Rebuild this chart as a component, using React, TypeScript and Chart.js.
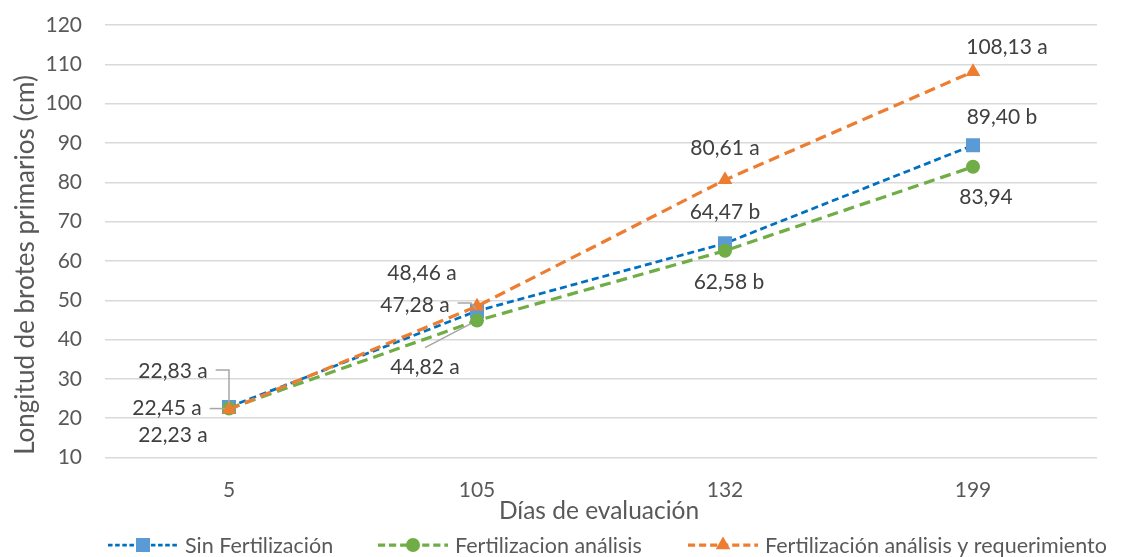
import React, { useEffect, useRef } from 'react';
import { Chart, registerables } from 'chart.js';

Chart.register(...registerables);

// Días de evaluación (categorías del eje X)
const dias = ['5', '105', '132', '199'];

// Longitud de brotes primarios (cm) por tratamiento
const sinFertilizacion = [22.83, 47.28, 64.47, 89.4];
const fertilizacionAnalisis = [22.45, 44.82, 62.58, 83.94];
const fertilizacionRequerimiento = [22.23, 48.46, 80.61, 108.13];

// Letras de significancia que acompañan a cada valor
const letrasSin = ['a', 'a', 'b', 'b'];
const letrasAnalisis = ['a', 'a', 'b', ''];
const letrasRequerimiento = ['a', 'a', 'a', 'a'];

// Eje Y
const yMin = 10;
const yMax = 120;
const yPaso = 10;

const nombres = ['Sin Fertilización', 'Fertilizacion análisis', 'Fertilización análisis y requerimiento'];

const FONT = 'Lato, "Open Sans", sans-serif';
const TEXT_DARK = '#404040';
const TEXT_AXIS = '#595959';

type Leader = 'elbow' | 'flat' | 'kink' | 'diag' | null;
interface LabelPos { dx: number; dy: number; leader: Leader }

// Desplazamiento de cada etiqueta respecto de su punto (px)
const posSin: LabelPos[] = [
  { dx: -56, dy: -36, leader: 'elbow' },
  { dx: -62, dy: -6, leader: 'kink' },
  { dx: 0, dy: -31, leader: null },
  { dx: 29, dy: -28, leader: null },
];
const posAnalisis: LabelPos[] = [
  { dx: -62, dy: 0, leader: 'flat' },
  { dx: -52, dy: 47, leader: 'diag' },
  { dx: 4, dy: 31, leader: null },
  { dx: 13, dy: 30, leader: null },
];
const posRequerimiento: LabelPos[] = [
  { dx: -56, dy: 26, leader: null },
  { dx: -55, dy: -33, leader: null },
  { dx: 0, dy: -32, leader: null },
  { dx: 34, dy: -24, leader: null },
];

const series = [
  {
    label: nombres[0], data: sinFertilizacion, letras: letrasSin, pos: posSin,
    line: '#0070C0', marker: '#5B9BD5', dash: [7, 4], width: 2.75, pointStyle: 'rect', radius: 9.9, order: 3,
  },
  {
    label: nombres[1], data: fertilizacionAnalisis, letras: letrasAnalisis, pos: posAnalisis,
    line: '#70AD47', marker: '#70AD47', dash: [11, 6], width: 3.25, pointStyle: 'circle', radius: 7, order: 2,
  },
  {
    label: nombres[2], data: fertilizacionRequerimiento, letras: letrasRequerimiento, pos: posRequerimiento,
    line: '#ED7D31', marker: '#ED7D31', dash: [11, 6], width: 3.25, pointStyle: 'triangle', radius: 8.5, order: 1,
  },
];

const fmt = (v: number, letra: string) => v.toFixed(2).replace('.', ',') + (letra ? ' ' + letra : '');

function drawMarker(ctx: CanvasRenderingContext2D, style: string, x: number, y: number, r: number, color: string) {
  ctx.save();
  ctx.fillStyle = color;
  ctx.beginPath();
  if (style === 'rect') {
    const s = Math.SQRT1_2 * r;
    ctx.rect(x - s, y - s, 2 * s, 2 * s);
  } else if (style === 'circle') {
    ctx.arc(x, y, r, 0, Math.PI * 2);
  } else {
    const w = r * Math.sin(Math.PI / 3);
    ctx.moveTo(x, y - r);
    ctx.lineTo(x + w, y + r / 2);
    ctx.lineTo(x - w, y + r / 2);
    ctx.closePath();
  }
  ctx.fill();
  ctx.restore();
}

const overlay = {
  id: 'overlay',
  afterDatasetsDraw(chart: any) {
    const ctx: CanvasRenderingContext2D = chart.ctx;
    ctx.save();
    ctx.font = `21px ${FONT}`;
    ctx.textAlign = 'center';
    ctx.textBaseline = 'middle';
    series.forEach((s, di) => {
      const meta = chart.getDatasetMeta(di);
      meta.data.forEach((pt: any, i: number) => {
        const p = s.pos[i];
        const lx = pt.x + p.dx;
        const ly = pt.y + p.dy;
        const text = fmt(s.data[i], s.letras[i]);
        const half = ctx.measureText(text).width / 2;
        if (p.leader) {
          ctx.save();
          ctx.strokeStyle = '#A6A6A6';
          ctx.lineWidth = 1.5;
          ctx.beginPath();
          if (p.leader === 'elbow') {
            ctx.moveTo(lx + half + 8, ly - 1);
            ctx.lineTo(pt.x, ly - 1);
            ctx.lineTo(pt.x, pt.y - 4);
          } else if (p.leader === 'flat') {
            ctx.moveTo(lx + half + 8, ly);
            ctx.lineTo(pt.x - 4, ly);
          } else if (p.leader === 'kink') {
            ctx.moveTo(lx + half + 8, ly - 2);
            ctx.lineTo(pt.x - 6, ly - 2);
            ctx.lineTo(pt.x - 1, pt.y - 2);
          } else if (p.leader === 'diag') {
            ctx.moveTo(lx, ly - 20);
            ctx.lineTo(pt.x - 6, pt.y + 3);
          }
          ctx.stroke();
          ctx.restore();
        }
        ctx.fillStyle = TEXT_DARK;
        ctx.fillText(text, lx, ly);
      });
    });
    ctx.restore();
  },
  afterDraw(chart: any) {
    const ctx: CanvasRenderingContext2D = chart.ctx;
    const area = chart.chartArea;
    ctx.save();
    // Título eje Y
    ctx.fillStyle = TEXT_AXIS;
    ctx.font = `26px ${FONT}`;
    ctx.textAlign = 'center';
    ctx.textBaseline = 'alphabetic';
    ctx.save();
    ctx.translate(34, 265);
    ctx.rotate(-Math.PI / 2);
    ctx.fillText('Longitud de brotes primarios (cm)', 0, 0);
    ctx.restore();
    // Título eje X
    ctx.font = `24.5px ${FONT}`;
    ctx.fillText('Días de evaluación', (area.left + area.right) / 2 - 2, 519);

    // Leyenda
    const legendY = 545;
    const starts = [108, 378, 688];
    ctx.font = `21.5px ${FONT}`;
    ctx.textAlign = 'left';
    ctx.textBaseline = 'middle';
    series.forEach((s, i) => {
      const x0 = starts[i];
      ctx.save();
      ctx.strokeStyle = s.line;
      ctx.lineWidth = s.width;
      ctx.setLineDash(s.dash.map((d) => d * 0.65));
      ctx.beginPath();
      ctx.moveTo(x0, legendY);
      ctx.lineTo(x0 + 70, legendY);
      ctx.stroke();
      ctx.restore();
      drawMarker(ctx, s.pointStyle, x0 + 35, legendY, s.radius, s.marker);
      ctx.fillStyle = TEXT_AXIS;
      ctx.fillText(s.label, x0 + 77, legendY + 1);
    });
    ctx.restore();
  },
};

export default function App() {
  const canvasRef = useRef<HTMLCanvasElement | null>(null);

  useEffect(() => {
    document.body.style.margin = '0';
    const canvas = canvasRef.current;
    if (!canvas) return;
    const chart = new Chart(canvas, {
      type: 'line',
      data: {
        labels: dias,
        datasets: series.map((s) => ({
          label: s.label,
          data: s.data,
          borderColor: s.line,
          borderWidth: s.width,
          borderDash: s.dash,
          backgroundColor: s.marker,
          pointStyle: s.pointStyle as any,
          pointRadius: s.radius,
          pointHoverRadius: s.radius,
          pointBackgroundColor: s.marker,
          pointBorderColor: s.marker,
          pointBorderWidth: 0,
          fill: false,
          tension: 0,
          order: s.order,
        })),
      },
      options: {
        responsive: false,
        animation: false,
        events: [],
        layout: { padding: { top: 25, right: 28, bottom: 0, left: 0 } },
        plugins: {
          legend: { display: false },
          tooltip: { enabled: false },
        },
        scales: {
          x: {
            type: 'category',
            offset: true,
            grid: { display: false, drawTicks: false },
            border: { display: false },
            ticks: { color: TEXT_AXIS, font: { family: FONT, size: 21 }, padding: 20 },
            afterFit: (scale: any) => {
              scale.height = 99.5;
              scale.paddingLeft = 0;
              scale.paddingRight = 0;
            },
          },
          y: {
            min: yMin,
            max: yMax,
            grid: { color: '#D9D9D9', lineWidth: 1.4, drawTicks: false },
            border: { display: false },
            ticks: { stepSize: yPaso, color: TEXT_AXIS, font: { family: FONT, size: 21 }, padding: 23 },
            afterFit: (scale: any) => {
              scale.width = 105;
              scale.paddingTop = 0;
              scale.paddingBottom = 0;
            },
          },
        },
      },
      plugins: [overlay],
    });
    return () => chart.destroy();
  }, []);

  return (
    <div style={{ width: 1125, height: 557, background: '#fff' }}>
      <canvas ref={canvasRef} width={1125} height={557} style={{ display: 'block' }} />
    </div>
  );
}
